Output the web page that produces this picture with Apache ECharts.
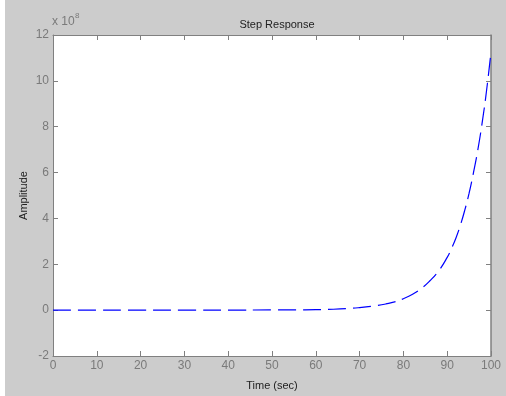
<!DOCTYPE html>
<html>
<head>
<meta charset="utf-8">
<script src="https://cdn.jsdelivr.net/npm/echarts@6/dist/echarts.min.js"></script>
<style>
  html, body { margin: 0; padding: 0; background: #ffffff; }
  #main { position: absolute; left: 5px; top: 0; width: 501px; height: 396px; background: #cccccc; }
</style>
</head>
<body>
<div id="main"></div>
<script>
// time (sec) and amplitude in units of 1e8
var timeSec = [0, 10, 20, 30, 40, 50, 55, 60, 64, 68, 70, 72, 74, 76, 78, 80, 82, 84, 86, 88, 90, 91, 92, 93, 94, 95, 96, 97, 98, 99, 100];
var amplitude = [0, 0, 0, 0, 0, 0.01, 0.01, 0.02, 0.04, 0.08, 0.11, 0.15, 0.2, 0.27, 0.36, 0.5, 0.68, 0.93, 1.27, 1.7, 2.3, 2.7, 3.15, 3.7, 4.35, 5.1, 6.0, 7.0, 8.2, 9.6, 11.26];
var xTicks = { min: 0, max: 100, step: 10 };
var yTicks = { min: -2, max: 12, step: 2 };

var pts = [];
for (var i = 0; i < timeSec.length; i++) {
  pts.push([timeSec[i], amplitude[i]]);
}

var axisGray = '#808080';
var labelGray = '#7a7a7a';
var fontFam = 'Liberation Sans, Arial, sans-serif';

var chart = echarts.init(document.getElementById('main'));

var option = {
  animation: false,
  backgroundColor: '#cccccc',
  title: {
    text: 'Step Response',
    left: 267,
    top: 14,
    textAlign: 'center',
    textStyle: { fontSize: 11, fontWeight: 'normal', color: '#222', fontFamily: fontFam }
  },
  grid: { left: 48, right: 15, top: 35, bottom: 40, backgroundColor: '#ffffff', show: true, borderWidth: 0 },
  xAxis: [{
    type: 'value',
    min: xTicks.min, max: xTicks.max, interval: xTicks.step,
    name: 'Time (sec)',
    nameLocation: 'middle',
    nameGap: 24,
    nameTextStyle: { fontSize: 11, color: '#222', fontFamily: fontFam },
    axisLine: { show: true, onZero: false, lineStyle: { color: axisGray } },
    axisTick: { show: true, inside: true, length: 5, lineStyle: { color: axisGray } },
    axisLabel: { fontSize: 12, color: labelGray, margin: 4, fontFamily: fontFam },
    splitLine: { show: false }
  }, {
    type: 'value', position: 'top',
    min: xTicks.min, max: xTicks.max, interval: xTicks.step,
    axisLine: { show: true, onZero: false, lineStyle: { color: axisGray } },
    axisTick: { show: true, inside: true, length: 5, lineStyle: { color: axisGray } },
    axisLabel: { show: false },
    splitLine: { show: false }
  }],
  yAxis: [{
    type: 'value',
    min: yTicks.min, max: yTicks.max, interval: yTicks.step,
    name: 'Amplitude',
    nameLocation: 'middle',
    nameGap: 24,
    nameMoveOverlap: false,
    nameTextStyle: { fontSize: 11, color: '#222', fontFamily: fontFam },
    axisLine: { show: true, onZero: false, lineStyle: { color: axisGray } },
    axisTick: { show: true, inside: true, length: 5, lineStyle: { color: axisGray } },
    axisLabel: { fontSize: 12, color: labelGray, margin: 4, fontFamily: fontFam },
    splitLine: { show: false }
  }, {
    type: 'value', position: 'right',
    min: yTicks.min, max: yTicks.max, interval: yTicks.step,
    axisLine: { show: true, onZero: false, lineStyle: { color: axisGray, width: 1.5 } },
    axisTick: { show: true, inside: true, length: 5, lineStyle: { color: axisGray } },
    axisLabel: { show: false },
    splitLine: { show: false }
  }],
  graphic: [{
    type: 'text', left: 47, top: 16,
    style: { text: 'x 10', fontSize: 12, fill: labelGray, fontFamily: fontFam }
  }, {
    type: 'text', left: 70, top: 12,
    style: { text: '8', fontSize: 8, fill: labelGray, fontFamily: fontFam }
  }],
  series: [{
    type: 'line',
    data: pts,
    showSymbol: false,
    smooth: true,
    lineStyle: { color: '#0000ff', width: 1.2, type: [18, 7] }
  }]
};
chart.setOption(option);
</script>
</body>
</html>
